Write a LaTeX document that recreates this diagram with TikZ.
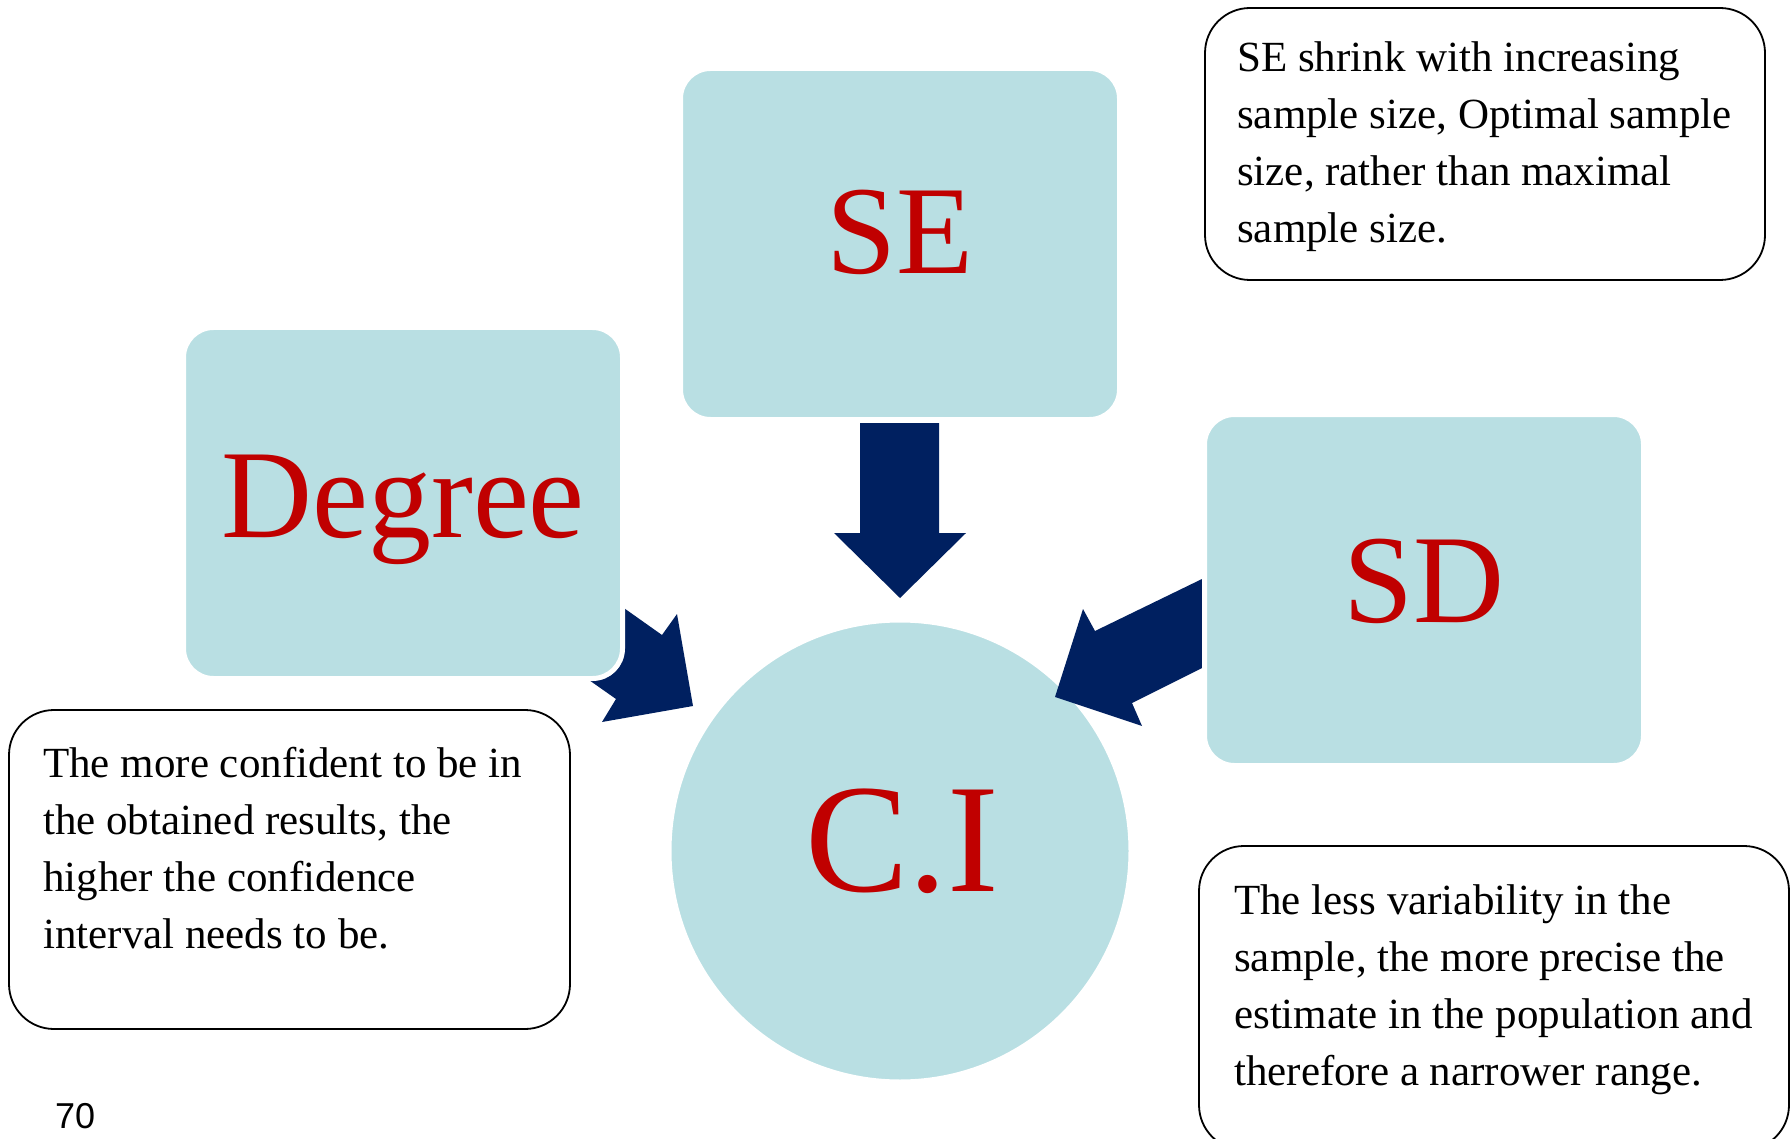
\documentclass[tikz,border=0pt]{standalone}
\usepackage{fontspec}
\setmainfont{Liberation Serif}
\newfontfamily\pagefont{Liberation Sans}
\definecolor{boxfill}{RGB}{185,223,227}
\definecolor{navy}{RGB}{0,32,96}
\definecolor{labelred}{RGB}{192,0,0}
\begin{document}
\begin{tikzpicture}[x=1pt,y=-1pt,
  factorbox/.style={draw=white, line width=5pt, fill=boxfill, rounded corners=30pt,
    minimum width=439pt, minimum height=351pt, inner sep=0pt},
  centrecircle/.style={circle, draw=white, line width=3pt, fill=boxfill,
    minimum size=460pt, inner sep=0pt},
  biglabel/.style={text=labelred, font=\fontsize{126}{126}\selectfont, anchor=base, inner sep=0pt},
  notebox/.style={draw=black, line width=1.8pt, fill=white, rounded corners=45pt, inner sep=0pt},
  % multi-line text: the base anchor sits on the last line
  notetext/.style={font=\fontsize{43}{57}\selectfont, align=left, anchor=base west, inner sep=0pt},
  blockarrow/.style={fill=navy, draw=none}
]
\useasboundingbox (0,0) rectangle (1791,1139);
\clip (0,0) rectangle (1791,1139);
\fill[white] (0,0) rectangle (1791,1139);

% central circle
\node[centrecircle] (ci) at (900,851) {};

% block arrows pointing into the circle
\fill[blockarrow] (860,423) -- (939,423) -- (939,533) -- (966,533) -- (900,598)
  -- (834,533) -- (860,533) -- cycle;
\fill[blockarrow] (1202,579) -- (1095,631) -- (1083,609) -- (1055,697)
  -- (1142,726) -- (1132,703) -- (1202,668) -- cycle;
\fill[blockarrow] (597,589) -- (662,635) -- (677,614) -- (693,706)
  -- (602,722) -- (616,699) -- (579,673) -- cycle;

% the three factor boxes
\node[factorbox] (se) at (900,244) {};
\node[factorbox] (degree) at (403,503) {};
\node[factorbox] (sd) at (1424,590) {};

% labels
\node[biglabel] (se-label) at (900,274) {SE};
\node[biglabel] (degree-label) at (403,537) {Degree};
\node[biglabel] (sd-label) at (1424,622) {SD};
\node[biglabel, font=\fontsize{155}{155}\selectfont] (ci-label) at (902,891) {C.I};

% explanatory notes
\node[notebox, minimum width=560pt, minimum height=272pt] (se-note) at (1485,144) {};
\node[notetext] (se-text) at (1237,243)
  {SE shrink with increasing\\sample size, Optimal sample\\size, rather than maximal\\sample size.};

\node[notebox, minimum width=561pt, minimum height=319pt] (degree-note) at (289.5,869.5) {};
\node[notetext] (degree-text) at (43,948)
  {The more confident to be in\\the obtained results, the\\higher the confidence\\interval needs to be.};

\node[notebox, minimum width=590pt, minimum height=304pt] (sd-note) at (1494,998) {};
\node[notetext] (sd-text) at (1234,1085)
  {The less variability in the\\sample, the more precise the\\estimate in the population and\\therefore a narrower range.};

% page number
\node[font=\pagefont\fontsize{36}{36}\selectfont, anchor=base west, inner sep=0pt] (pagenum) at (55,1128) {70};
\end{tikzpicture}
\end{document}
